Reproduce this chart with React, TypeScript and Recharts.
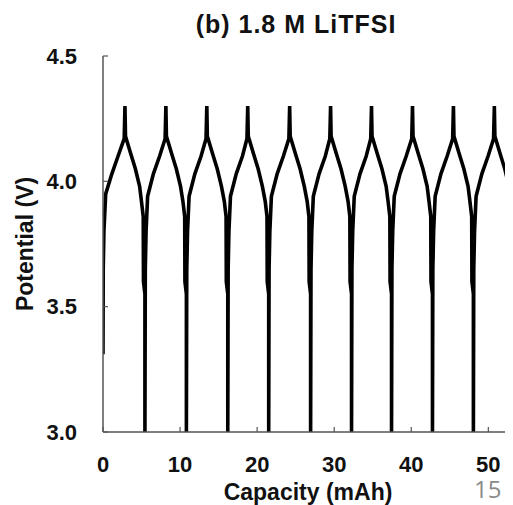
import React from "react";
import { LineChart, Line, XAxis, YAxis, Label } from "recharts";

// Capacity (mAh) and potential (V)
const capacity: number[] = [
  0.00, 0.03, 0.12, 0.35, 1.15, 1.95, 2.75, 2.85, 2.92, 3.60, 4.20, 4.75, 4.99, 5.22, 5.25, 5.44, 5.44,
  5.49, 5.59, 5.79, 6.54, 7.34, 8.06, 8.16, 8.23, 8.91, 9.51, 10.06, 10.37, 10.60, 10.63, 10.82, 10.82,
  10.87, 10.97, 11.17, 11.92, 12.72, 13.37, 13.47, 13.54, 14.22, 14.82, 15.37, 15.74, 15.97, 16.00, 16.19, 16.19,
  16.24, 16.34, 16.54, 17.29, 18.09, 18.68, 18.78, 18.85, 19.53, 20.13, 20.68, 21.05, 21.28, 21.31, 21.50, 21.50,
  21.55, 21.65, 21.85, 22.60, 23.40, 24.12, 24.22, 24.29, 24.97, 25.57, 26.12, 26.49, 26.72, 26.75, 26.94, 26.94,
  26.99, 27.09, 27.29, 28.04, 28.84, 29.43, 29.53, 29.60, 30.28, 30.88, 31.43, 31.80, 32.03, 32.06, 32.25, 32.25,
  32.30, 32.40, 32.60, 33.35, 34.15, 34.74, 34.84, 34.91, 35.59, 36.19, 36.74, 36.99, 37.22, 37.25, 37.44, 37.44,
  37.49, 37.59, 37.79, 38.54, 39.34, 40.06, 40.16, 40.23, 40.91, 41.51, 42.06, 42.30, 42.53, 42.56, 42.75, 42.75,
  42.80, 42.90, 43.10, 43.85, 44.65, 45.37, 45.47, 45.54, 46.22, 46.82, 47.37, 47.61, 47.84, 47.87, 48.06, 48.06,
  48.11, 48.21, 48.41, 49.16, 49.96, 50.68, 50.78, 50.85, 51.53, 52.13, 52.68, 52.95, 53.18, 53.21, 53.40, 53.40,
];

const potential: number[] = [
  3.31, 3.65, 3.80, 3.95, 4.03, 4.10, 4.17, 4.30, 4.18, 4.11, 4.05, 3.98, 3.92, 3.86, 3.60, 3.55, 3.00,
  3.65, 3.80, 3.94, 4.03, 4.10, 4.17, 4.30, 4.18, 4.11, 4.05, 3.98, 3.92, 3.86, 3.60, 3.55, 3.00,
  3.65, 3.80, 3.94, 4.03, 4.10, 4.17, 4.30, 4.18, 4.11, 4.05, 3.98, 3.92, 3.86, 3.60, 3.55, 3.00,
  3.65, 3.80, 3.94, 4.03, 4.10, 4.17, 4.30, 4.18, 4.11, 4.05, 3.98, 3.92, 3.86, 3.60, 3.55, 3.00,
  3.65, 3.80, 3.94, 4.03, 4.10, 4.17, 4.30, 4.18, 4.11, 4.05, 3.98, 3.92, 3.86, 3.60, 3.55, 3.00,
  3.65, 3.80, 3.94, 4.03, 4.10, 4.17, 4.30, 4.18, 4.11, 4.05, 3.98, 3.92, 3.86, 3.60, 3.55, 3.00,
  3.65, 3.80, 3.94, 4.03, 4.10, 4.17, 4.30, 4.18, 4.11, 4.05, 3.98, 3.92, 3.86, 3.60, 3.55, 3.00,
  3.65, 3.80, 3.94, 4.03, 4.10, 4.17, 4.30, 4.18, 4.11, 4.05, 3.98, 3.92, 3.86, 3.60, 3.55, 3.00,
  3.65, 3.80, 3.94, 4.03, 4.10, 4.17, 4.30, 4.18, 4.11, 4.05, 3.98, 3.92, 3.86, 3.60, 3.55, 3.00,
  3.65, 3.80, 3.94, 4.03, 4.10, 4.17, 4.30, 4.18, 4.11, 4.05, 3.98, 3.92, 3.86, 3.60, 3.55, 3.00,
];

const xTicks: number[] = [0, 10, 20, 30, 40, 50];
const yTicks: number[] = [3.0, 3.5, 4.0, 4.5];

const title = "(b) 1.8 M LiTFSI";
const xLabel = "Capacity (mAh)";
const yLabel = "Potential (V)";
const pageNumber = "15";

const data = capacity.map((c, i) => ({ cap: c, v: potential[i] }));

const FONT = "'Liberation Sans', Arial, sans-serif";
const AXIS = "#555";

export default function App() {
  return (
    <div style={{ position: "relative", width: 505, height: 497, background: "#fff" }}>
      <div
        style={{
          position: "absolute",
          left: 0,
          width: 576,
          top: 1,
          textAlign: "center",
          fontFamily: FONT,
          fontWeight: 700,
          fontSize: 25,
          letterSpacing: 1,
          color: "#111",
          lineHeight: "30px",
        }}
      >
        {title}
      </div>
      <div
        style={{
          position: "absolute",
          left: 466,
          top: 472,
          fontFamily: "'Open Sans', sans-serif",
          fontSize: 24,
          color: "#8a8a8a",
          lineHeight: "17px",
        }}
      >
        {pageNumber}
      </div>
      <LineChart width={505} height={497} data={data} margin={{ top: 48, right: 0, bottom: 0, left: 0 }}>
        <XAxis
          xAxisId="top"
          orientation="top"
          type="number"
          dataKey="cap"
          domain={[0, 53.2]}
          allowDataOverflow
          height={0}
          tick={false}
          tickLine={false}
          axisLine={{ stroke: AXIS, strokeWidth: 1.5 }}
        />
        <XAxis
          type="number"
          dataKey="cap"
          domain={[0, 53.2]}
          allowDataOverflow
          ticks={xTicks}
          interval={0}
          height={73}
          tickSize={-5}
          tickMargin={29}
          axisLine={{ stroke: AXIS, strokeWidth: 1.5 }}
          tickLine={{ stroke: AXIS, strokeWidth: 1.2 }}
          tick={{ fontFamily: FONT, fontWeight: 700, fontSize: 22, fill: "#111" }}
        >
          <Label
            value={xLabel}
            position="insideBottom"
            offset={5}
            style={{ fontFamily: FONT, fontWeight: 700, fontSize: 23, fill: "#111" }}
          />
        </XAxis>
        <YAxis
          type="number"
          domain={[3.0, 4.5]}
          ticks={yTicks}
          interval={0}
          width={95}
          tickSize={-5}
          tickMargin={31}
          tickFormatter={(t: number) => t.toFixed(1)}
          axisLine={{ stroke: AXIS, strokeWidth: 1.5 }}
          tickLine={{ stroke: AXIS, strokeWidth: 1.2 }}
          tick={{ fontFamily: FONT, fontWeight: 700, fontSize: 22, fill: "#111" }}
          label={(props: any) => {
            const vb = props.viewBox || {};
            const cx = (vb.x || 0) + 17;
            const cy = (vb.y || 0) + (vb.height || 0) / 2;
            return (
              <text
                x={cx}
                y={cy}
                transform={`rotate(-90, ${cx}, ${cy})`}
                textAnchor="middle"
                dominantBaseline="central"
                style={{ fontFamily: FONT, fontWeight: 700, fontSize: 23, fill: "#111" }}
              >
                {yLabel}
              </text>
            );
          }}
        />
        <Line
          type="linear"
          dataKey="v"
          stroke="#000"
          strokeWidth={3.6}
          dot={false}
          isAnimationActive={false}
        />
      </LineChart>
    </div>
  );
}
